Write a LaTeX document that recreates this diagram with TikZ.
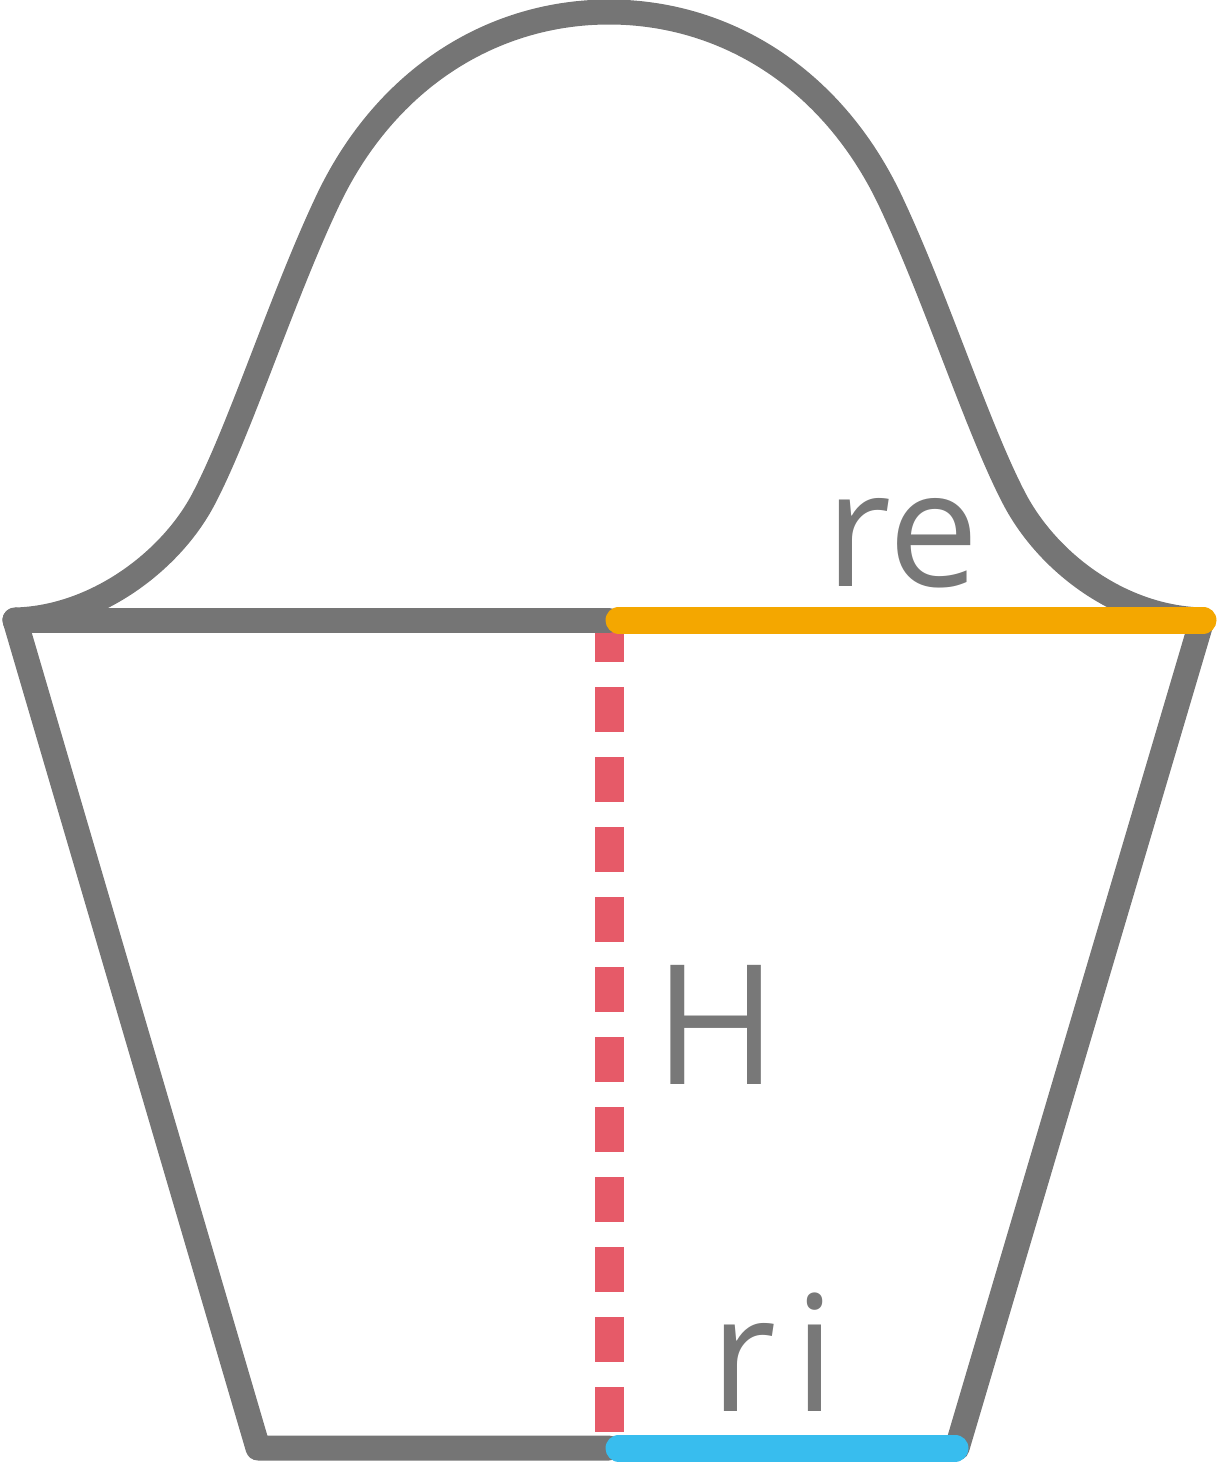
\documentclass[tikz,border=0pt]{standalone}
\usepackage{fontspec}
\setmainfont{Open Sans}
\definecolor{shapegray}{HTML}{757575}
\definecolor{labelgray}{HTML}{787878}
\definecolor{reorange}{HTML}{F4A700}
\definecolor{riblue}{HTML}{38BDEE}
\definecolor{hred}{HTML}{E65A68}
\tikzset{
  outline/.style={draw=shapegray,line width=0.5cm,line join=round,line cap=round},
  radius line/.style={line width=0.54cm,line cap=round},
  height line/.style={draw=hred,line width=0.58cm,dash pattern=on 0.9cm off 0.5cm,dash phase=0.06cm},
  lbl/.style={text=labelgray,inner sep=0pt},
  big lbl/.style={lbl,font=\fontsize{92}{92}\selectfont},
  cap lbl/.style={lbl,font=\fontsize{95}{95}\selectfont}
}
\begin{document}
\begin{tikzpicture}[x=0.02cm,y=-0.02cm]
\useasboundingbox (0,0) rectangle (1221,1468);
\coordinate (tl) at (15,620);
\coordinate (tc) at (609,620);
\coordinate (tr) at (1202,620);
\coordinate (bl) at (258,1448);
\coordinate (bc) at (609,1448);
\coordinate (br) at (957,1448);
\coordinate (os) at (619,620);
\coordinate (oe) at (1203,620);
\coordinate (bs) at (619,1448);
\coordinate (be) at (955,1448);
\draw[height line] (tc) -- (bc);
\draw[outline] (tl) -- (bl) -- (bc);
\draw[outline] (tr) -- (br);
\draw[outline] (tl) -- (tc);
\draw[outline] (tl) .. controls (95,618) and (170,562) .. (203,500)
  .. controls (240,430) and (282,297) .. (328,200)
  .. controls (387,76) and (495,12) .. (609,12)
  .. controls (723,12) and (831,76) .. (890,200)
  .. controls (936,297) and (978,430) .. (1015,500)
  .. controls (1048,562) and (1120,618) .. (oe);
\draw[radius line,draw=reorange] (os) -- (oe);
\draw[radius line,draw=riblue] (bs) -- (be);
\node[big lbl] (re) at (902,543) {re};
\node[cap lbl] (h) at (716,1025) {H};
\node[big lbl] (ri) at (773,1352) {r\kern0.38cm i};
\end{tikzpicture}
\end{document}
